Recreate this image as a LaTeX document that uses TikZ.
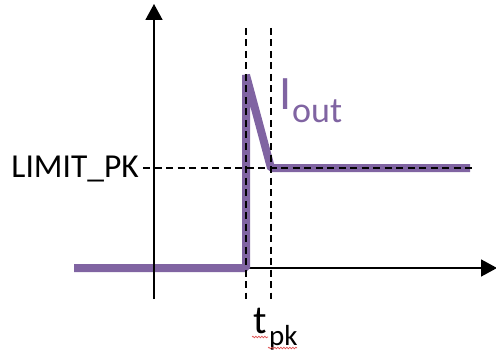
\documentclass[tikz,border=0pt]{standalone}
\usepackage{xcolor}
\usepackage{fontspec}
\setmainfont{Carlito}
\usepackage{tikz}
\usetikzlibrary{arrows.meta, decorations.pathmorphing}

\definecolor{curvepurple}{HTML}{8064A2}
\definecolor{spellred}{HTML}{E05050}

\begin{document}
\begin{tikzpicture}[
    x=1pt, y=-1pt,
    axis/.style={line width=1.6pt, -{Triangle[length=16pt, width=17pt]}},
    guide/.style={line width=1.4pt, dash pattern=on 7pt off 4.5pt},
    current/.style={line width=8pt, color=curvepurple, line join=bevel},
    squiggle/.style={spellred, line width=0.7pt, decorate, decoration={snake, amplitude=0.8pt, segment length=3pt}},
    label/.style={inner sep=0pt, anchor=base west},
]
    \useasboundingbox (0,0) rectangle (496,353);

    % key points
    \coordinate (origin) at (154,268);
    \coordinate (ybot) at (154,299);
    \coordinate (ytop) at (154,4);
    \coordinate (xend) at (497,268);
    \coordinate (start) at (74,268);
    \coordinate (rise) at (246,268);
    \coordinate (peak) at (246,75);
    \coordinate (settle) at (271,168);
    \coordinate (tail) at (470,168);

    % time axis sits under the curve
    \draw[axis] (origin) -- (xend);

    % output current
    \draw[current] (start) -- (rise) -- (peak) -- (settle) -- (tail);

    % guides
    \draw[guide] (246,28) -- (246,299);
    \draw[guide] (271,28) -- (271,299);
    \draw[guide] (143,168) -- (475,168);

    % current axis
    \draw[axis] (ybot) -- (ytop);

    % labels
    \node[inner sep=0pt, anchor=base east] (limit) at (139,178) {\fontsize{33.5}{35}\selectfont LIMIT\_PK};
    \node[label, text=curvepurple] (iname) at (279,110) {\fontsize{48}{50}\selectfont I};
    \node[label, text=curvepurple] (isub) at (292,122) {\fontsize{36}{38}\selectfont out};
    \node[label] (tname) at (253,333) {\fontsize{40}{42}\selectfont t};
    \node[label] (tsub) at (269,345) {\fontsize{29}{31}\selectfont pk};

    % spell-check marks
    \draw[squiggle] (252,337) -- (268,337);
    \draw[squiggle] (268,348) -- (297,348);
\end{tikzpicture}
\end{document}
